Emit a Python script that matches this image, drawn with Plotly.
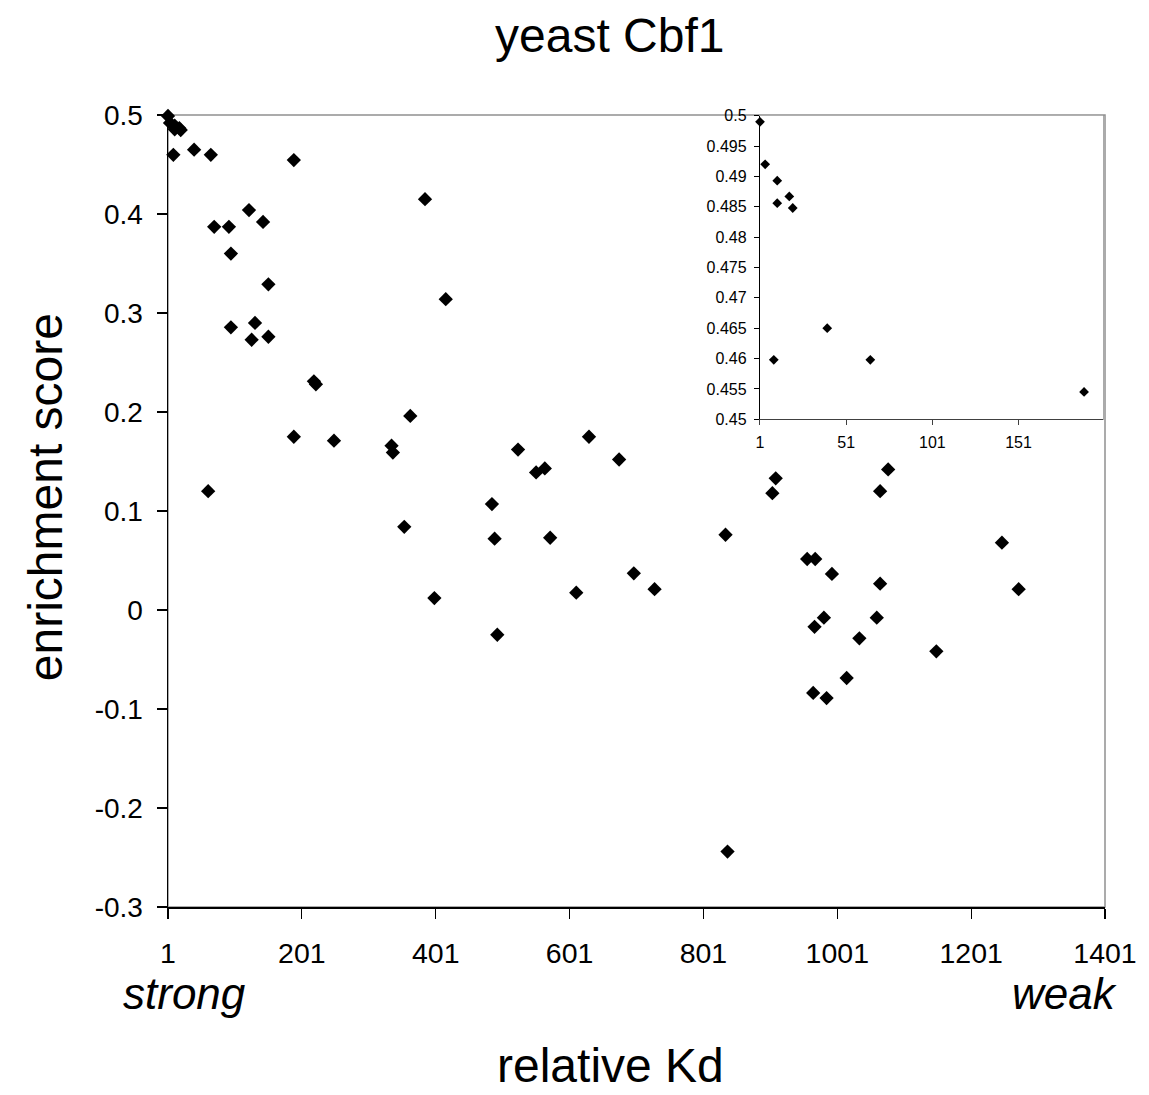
import plotly.graph_objects as go

# relative Kd rank (x) and enrichment score (y)
kd = [1, 4, 11, 11, 18, 20, 9, 40, 65, 189,
      385, 122, 143, 70, 92, 95, 151, 416, 95, 131,
      126, 151, 219, 222, 363, 189, 249, 335, 337, 61,
      485, 489, 354, 399, 524, 630, 675, 551, 564, 572,
      697, 728, 611, 493, 834, 909, 904, 1077, 1065, 1247,
      1272, 956, 968, 993, 1065, 981, 967, 1060, 1034, 1149,
      1015, 965, 985, 837]
score = [0.499, 0.492, 0.4893, 0.4856, 0.4867, 0.4848, 0.4598, 0.465, 0.4598, 0.4545,
         0.415, 0.404, 0.392, 0.387, 0.387, 0.360, 0.329, 0.314, 0.2855, 0.290,
         0.273, 0.276, 0.231, 0.228, 0.196, 0.175, 0.171, 0.166, 0.159, 0.120,
         0.107, 0.072, 0.084, 0.012, 0.162, 0.175, 0.152, 0.139, 0.143, 0.073,
         0.037, 0.021, 0.0175, -0.025, 0.076, 0.133, 0.118, 0.142, 0.120, 0.068,
         0.021, 0.0515, 0.0515, 0.0364, 0.0266, -0.0078, -0.017, -0.0078, -0.0286, -0.0417,
         -0.0687, -0.0838, -0.089, -0.244]

x_ticks = [1, 201, 401, 601, 801, 1001, 1201, 1401]
y_ticks = [0.5, 0.4, 0.3, 0.2, 0.1, 0, -0.1, -0.2, -0.3]
y_ticktext = ["0.5", "0.4", "0.3", "0.2", "0.1", "0", "-0.1", "-0.2", "-0.3"]

inset_x_ticks = [1, 51, 101, 151]
inset_y_ticks = [0.5, 0.495, 0.49, 0.485, 0.48, 0.475, 0.47, 0.465, 0.46, 0.455, 0.45]
inset_y_ticktext = ["0.5", "0.495", "0.49", "0.485", "0.48", "0.475", "0.47",
                    "0.465", "0.46", "0.455", "0.45"]

inset_kd = [k for k, s in zip(kd, score) if k <= 200 and s >= 0.45]
inset_score = [s for k, s in zip(kd, score) if k <= 200 and s >= 0.45]

FONT = "Liberation Sans, Arial, sans-serif"

fig = go.Figure()
fig.add_trace(go.Scatter(
    x=kd, y=score, mode="markers", xaxis="x", yaxis="y",
    marker=dict(symbol="diamond", size=11, color="black"),
    cliponaxis=False, showlegend=False, hoverinfo="skip"))
fig.add_trace(go.Scatter(
    x=inset_kd, y=inset_score, mode="markers", xaxis="x2", yaxis="y2",
    marker=dict(symbol="diamond", size=7.5, color="black"),
    cliponaxis=False, showlegend=False, hoverinfo="skip"))

fig.update_layout(
    width=1149, height=1095, autosize=False,
    margin=dict(l=168, r=35, t=115, b=188),
    paper_bgcolor="white", plot_bgcolor="white",
    font=dict(family=FONT, color="black"),
    xaxis=dict(domain=[0, 1], range=[1, 1401], tickvals=x_ticks,
               ticktext=[str(v) for v in x_ticks],
               showgrid=False, zeroline=False, showline=True,
               linecolor="black", linewidth=1.5, ticks="outside",
               ticklen=10, tickwidth=1.2, tickcolor="black",
               tickfont=dict(size=28.5, family=FONT), ticklabelstandoff=10),
    yaxis=dict(domain=[0, 1], range=[-0.3, 0.5], tickvals=y_ticks,
               ticktext=y_ticktext,
               showgrid=False, zeroline=False, showline=True,
               linecolor="black", linewidth=1.5, ticks="outside",
               ticklen=10, tickwidth=1.2, tickcolor="black",
               tickfont=dict(size=28, family=FONT), ticklabelstandoff=8),
    xaxis2=dict(domain=[0.6318, 0.9979], anchor="y2", range=[1, 200],
                tickvals=inset_x_ticks, ticktext=[str(v) for v in inset_x_ticks],
                showgrid=False, zeroline=False, showline=True,
                linecolor="#404040", linewidth=1.2, ticks="outside",
                ticklen=5, tickwidth=1, tickcolor="#404040",
                tickfont=dict(size=16, family=FONT), ticklabelstandoff=3),
    yaxis2=dict(domain=[0.6158, 0.9991], anchor="x2", range=[0.45, 0.5],
                tickvals=inset_y_ticks, ticktext=inset_y_ticktext,
                showgrid=False, zeroline=False, showline=True,
                linecolor="black", linewidth=1.2, ticks="outside",
                ticklen=5, tickwidth=1, tickcolor="black",
                tickfont=dict(size=16, family=FONT), ticklabelstandoff=4),
    shapes=[
        dict(type="rect", xref="x domain", yref="y domain", x0=0, x1=1, y0=0, y1=1,
             line=dict(color="#909090", width=1.5), layer="below"),
        dict(type="rect", xref="x2 domain", yref="y2 domain", x0=0, x1=1, y0=0, y1=1,
             line=dict(color="#909090", width=1.5), fillcolor="white", layer="below"),
    ],
    annotations=[
        dict(text="yeast Cbf1", xref="paper", yref="paper", x=0.4715, y=1.101,
             xanchor="center", yanchor="middle", showarrow=False,
             font=dict(size=48, family=FONT)),
        dict(text="relative Kd", xref="paper", yref="paper", x=0.4725,
             y=(907 - 1094) / 792,
             xanchor="center", yanchor="bottom", showarrow=False,
             font=dict(size=48, family=FONT)),
        dict(text="<i>strong</i>", xref="paper", yref="paper", x=0.018, y=-0.1086,
             xanchor="center", yanchor="middle", showarrow=False,
             font=dict(size=44, family=FONT)),
        dict(text="<i>weak</i>", xref="paper", yref="paper", x=0.9567, y=-0.1086,
             xanchor="center", yanchor="middle", showarrow=False,
             font=dict(size=44, family=FONT)),
        dict(text="enrichment score", xref="paper", yref="paper", x=-0.130, y=0.5177,
             xanchor="center", yanchor="middle", showarrow=False, textangle=-90,
             font=dict(size=48, family=FONT)),
    ],
)

fig.write_html("out.html",
               config={"displayModeBar": False, "staticPlot": True},
               post_script="document.body.style.margin='0';"
                           "document.body.style.overflow='hidden';")
